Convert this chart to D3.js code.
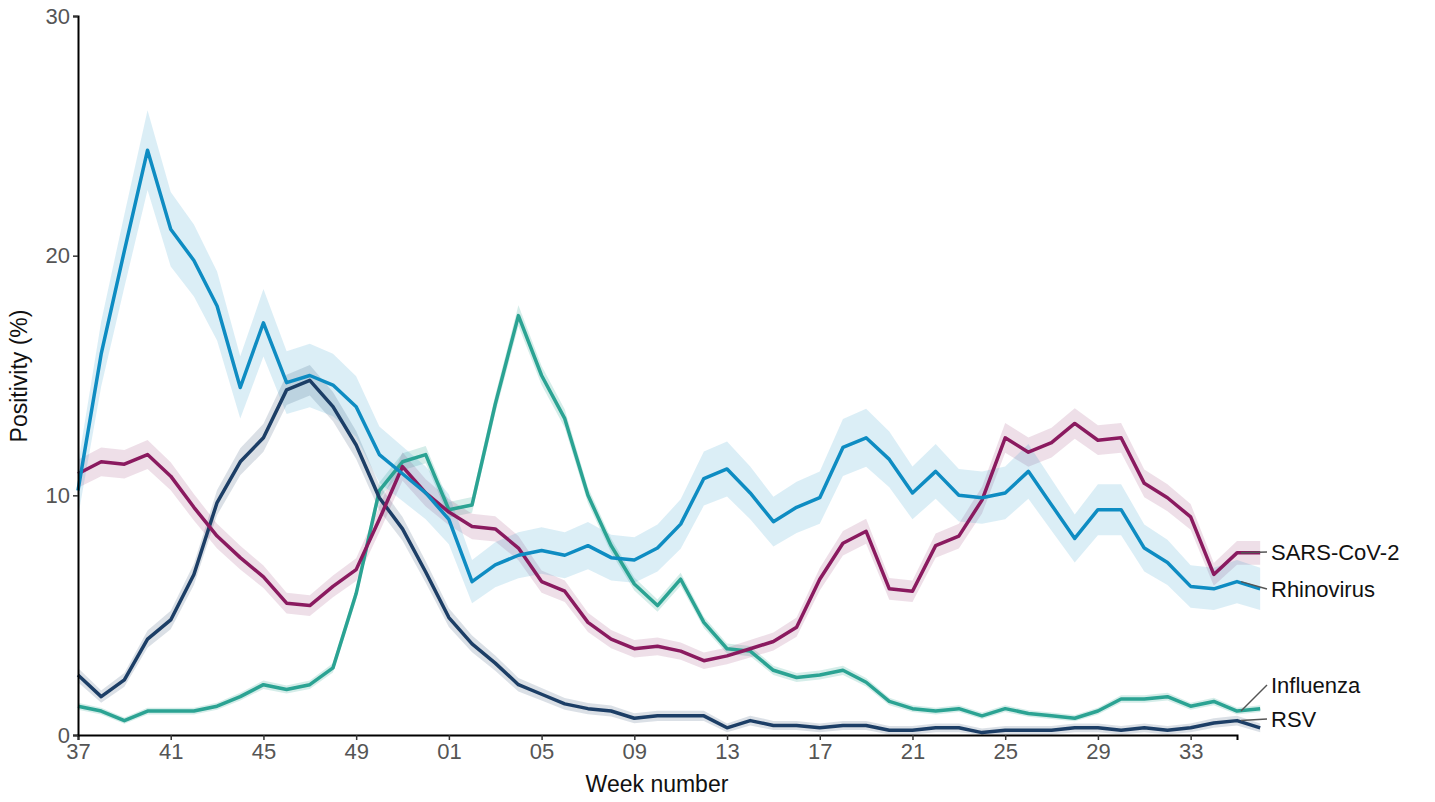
<!DOCTYPE html>
<html>
<head>
<meta charset="utf-8">
<script src="https://cdn.jsdelivr.net/npm/d3@7"></script>
<style>
body { margin: 0; background: #fff; }
text { font-family: Arial, "Liberation Sans", sans-serif; }
</style>
</head>
<body>
<svg id="chart" width="1435" height="802"></svg>
<script>
// week numbers, season 37 -> 35
var weeks = d3.range(37, 53).concat(d3.range(1, 36));
var tickWeeks = [37, 41, 45, 49, 1, 5, 9, 13, 17, 21, 25, 29, 33];

var rhinovirus = [10.2, 15.9, 20.2, 24.4, 21.1, 19.8, 17.9, 14.5, 17.2, 14.7, 15.0, 14.6, 13.7, 11.7, 10.9, 10.1,
    9.0, 6.4, 7.1, 7.5, 7.7, 7.5, 7.9, 7.4, 7.3, 7.8, 8.8, 10.7, 11.1, 10.1, 8.9, 9.5, 9.9, 12.0, 12.4, 11.5,
    10.1, 11.0, 10.0, 9.9, 10.1, 11.0, 9.6, 8.2, 9.4, 9.4, 7.8, 7.2, 6.2, 6.1, 6.4, 6.1];
var sarsCov2 = [10.9, 11.4, 11.3, 11.7, 10.8, 9.5, 8.3, 7.4, 6.6, 5.5, 5.4, 6.2, 6.9, 9.0, 11.2, 10.1,
    9.3, 8.7, 8.6, 7.8, 6.4, 6.0, 4.7, 4.0, 3.6, 3.7, 3.5, 3.1, 3.3, 3.6, 3.9, 4.5, 6.5, 8.0, 8.5, 6.1,
    6.0, 7.9, 8.3, 9.8, 12.4, 11.8, 12.2, 13.0, 12.3, 12.4, 10.5, 9.9, 9.1, 6.7, 7.6, 7.6];
var influenza = [1.2, 1.0, 0.6, 1.0, 1.0, 1.0, 1.2, 1.6, 2.1, 1.9, 2.1, 2.8, 5.9, 10.2, 11.4, 11.7,
    9.4, 9.6, 13.8, 17.5, 15.0, 13.2, 10.0, 7.9, 6.3, 5.4, 6.5, 4.7, 3.6, 3.5, 2.7, 2.4, 2.5, 2.7, 2.2, 1.4,
    1.1, 1.0, 1.1, 0.8, 1.1, 0.9, 0.8, 0.7, 1.0, 1.5, 1.5, 1.6, 1.2, 1.4, 1.0, 1.1];
var rsv = [2.5, 1.6, 2.3, 4.0, 4.8, 6.7, 9.7, 11.4, 12.4, 14.4, 14.8, 13.7, 12.1, 9.9, 8.6, 6.8,
    4.9, 3.8, 3.0, 2.1, 1.7, 1.3, 1.1, 1.0, 0.7, 0.8, 0.8, 0.8, 0.3, 0.6, 0.4, 0.4, 0.3, 0.4, 0.4, 0.2,
    0.2, 0.3, 0.3, 0.1, 0.2, 0.2, 0.2, 0.3, 0.3, 0.2, 0.3, 0.2, 0.3, 0.5, 0.6, 0.3];

var series = [
    { name: 'Influenza', values: influenza, color: '#2ba393', band: 0.1, opacity: 0.2, labelY: 685 },
    { name: 'RSV', values: rsv, color: '#1c3e66', band: 0.16, opacity: 0.16, labelY: 719 },
    { name: 'SARS-CoV-2', values: sarsCov2, color: '#8a1a5f', band: 0.17, opacity: 0.14, labelY: 552 },
    { name: 'Rhinovirus', values: rhinovirus, color: '#0e8cc2', band: 0.33, opacity: 0.15, labelY: 589 }
];

var svg = d3.select('#chart');
var x = d3.scaleLinear().domain([0, weeks.length - 1]).range([78, 1237]);
var y = d3.scaleLinear().domain([0, 30]).range([735, 16]);

// confidence bands
series.forEach(function (s) {
    var half = function (d) { return s.band * Math.sqrt(d + 1); };
    var area = d3.area()
        .x(function (d, i) { return x(i); })
        .y0(function (d) { return y(Math.max(0, d - half(d))); })
        .y1(function (d) { return y(d + half(d)); });
    svg.append('path')
        .datum(s.values)
        .attr('d', area)
        .attr('fill', s.color)
        .attr('opacity', s.opacity);
});

series.forEach(function (s) {
    var line = d3.line()
        .x(function (d, i) { return x(i); })
        .y(function (d) { return y(d); });
    svg.append('path')
        .datum(s.values)
        .attr('d', line)
        .attr('fill', 'none')
        .attr('stroke', s.color)
        .attr('stroke-width', 3.5)
        .attr('stroke-linejoin', 'round');
});

// axes
var xAxis = d3.axisBottom(x)
    .tickValues(tickWeeks.map(function (w) { return weeks.indexOf(w); }))
    .tickFormat(function (i) { return d3.format('02d')(weeks[i]); })
    .tickSizeOuter(0).tickSize(5).tickPadding(3);
var gx = svg.append('g').attr('transform', 'translate(0,735)').call(xAxis);
gx.select('.domain').attr('stroke', '#000').attr('stroke-width', 2);
gx.selectAll('.tick line').attr('stroke', '#333').attr('stroke-width', 1.5);
gx.selectAll('.tick text').attr('fill', '#555').attr('font-size', 22);

var yAxis = d3.axisLeft(y).tickValues([0, 10, 20, 30]).tickSizeOuter(0).tickSize(5).tickPadding(3);
var gy = svg.append('g').attr('transform', 'translate(78,0)').call(yAxis);
gy.select('.domain').attr('stroke', '#000').attr('stroke-width', 2);
gy.selectAll('.tick line').attr('stroke', '#333').attr('stroke-width', 1.5);
gy.selectAll('.tick text').attr('fill', '#555').attr('font-size', 22);

svg.append('text').attr('x', 657).attr('y', 792).attr('text-anchor', 'middle')
    .attr('font-size', 23).attr('fill', '#111').text('Week number');
svg.append('text').attr('transform', 'translate(27,376) rotate(-90)').attr('text-anchor', 'middle')
    .attr('font-size', 23).attr('fill', '#111').text('Positivity (%)');

// end labels with leader lines
var last = weeks.length - 1;
series.forEach(function (s) {
    var yEnd = y(s.values[last]);
    svg.append('line')
        .attr('x1', x(last) + 4).attr('y1', yEnd)
        .attr('x2', 1267).attr('y2', s.labelY)
        .attr('stroke', '#555').attr('stroke-width', 1.5);
    svg.append('text').attr('x', 1271).attr('y', s.labelY).attr('dy', '0.35em')
        .attr('font-size', 22).attr('fill', '#111').text(s.name);
});
</script>
</body>
</html>
